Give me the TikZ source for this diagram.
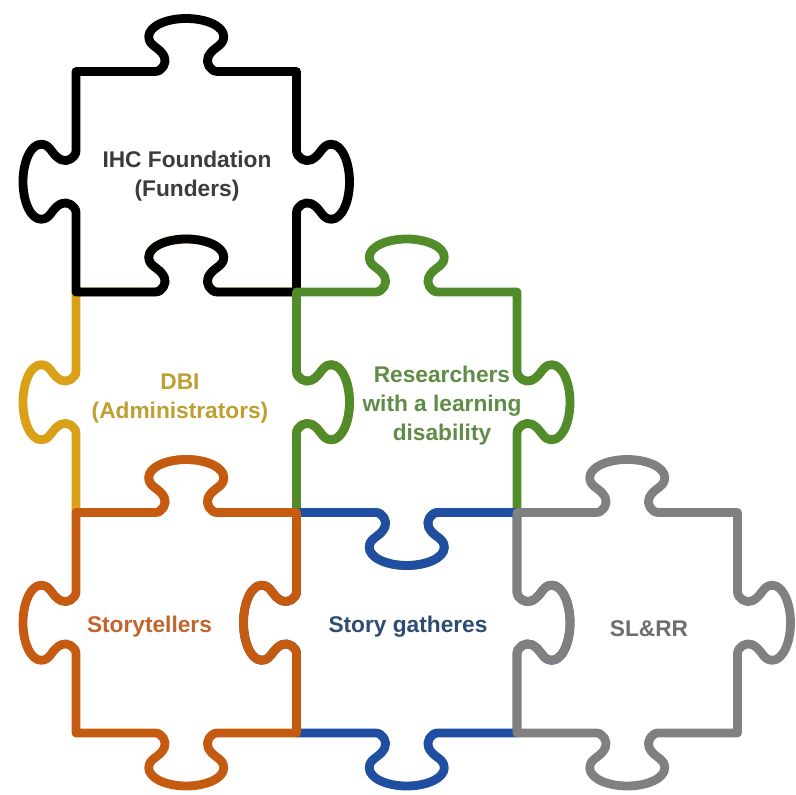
\documentclass[tikz,border=0pt]{standalone}
\usepackage{fontspec}
\setmainfont{Liberation Sans}
\definecolor{dbiline}{RGB}{218,160,24}
\definecolor{dbitext}{RGB}{190,160,50}
\definecolor{stline}{RGB}{197,90,17}
\definecolor{sttext}{RGB}{195,100,45}
\definecolor{resline}{RGB}{82,140,42}
\definecolor{restext}{RGB}{95,140,70}
\definecolor{sgline}{RGB}{32,78,160}
\definecolor{sgtext}{RGB}{45,75,115}
\definecolor{slline}{RGB}{128,128,128}
\definecolor{sltext}{RGB}{110,110,110}
\definecolor{ihctext}{RGB}{60,60,60}
% one tabbed edge: start X, start Y, along (ux,uy), tab toward (nx,ny)
\newcommand\E[6]{%
-- ({#1+(#3)*79.25},{#2+(#4)*79.25})
.. controls ({#1+(#3)*86.25},{#2+(#4)*86.25}) and ({#1+(#3)*91.25+(#5)*9},{#2+(#4)*91.25+(#6)*9}) .. ({#1+(#3)*88.25+(#5)*15},{#2+(#4)*88.25+(#6)*15})
.. controls ({#1+(#3)*83.25+(#5)*25},{#2+(#4)*83.25+(#6)*25}) and ({#1+(#3)*72.75+(#5)*25},{#2+(#4)*72.75+(#6)*25}) .. ({#1+(#3)*72.75+(#5)*35},{#2+(#4)*72.75+(#6)*35})
.. controls ({#1+(#3)*72.75+(#5)*44.9},{#2+(#4)*72.75+(#6)*44.9}) and ({#1+(#3)*89.55+(#5)*53},{#2+(#4)*89.55+(#6)*53}) .. ({#1+(#3)*110.25+(#5)*53},{#2+(#4)*110.25+(#6)*53})
.. controls ({#1+(#3)*130.95+(#5)*53},{#2+(#4)*130.95+(#6)*53}) and ({#1+(#3)*147.75+(#5)*44.9},{#2+(#4)*147.75+(#6)*44.9}) .. ({#1+(#3)*147.75+(#5)*35},{#2+(#4)*147.75+(#6)*35})
.. controls ({#1+(#3)*147.75+(#5)*25},{#2+(#4)*147.75+(#6)*25}) and ({#1+(#3)*137.25+(#5)*25},{#2+(#4)*137.25+(#6)*25}) .. ({#1+(#3)*132.25+(#5)*15},{#2+(#4)*132.25+(#6)*15})
.. controls ({#1+(#3)*129.25+(#5)*9},{#2+(#4)*129.25+(#6)*9}) and ({#1+(#3)*134.25},{#2+(#4)*134.25}) .. ({#1+(#3)*141.25},{#2+(#4)*141.25})
-- ({#1+(#3)*220.5},{#2+(#4)*220.5})}
% piece: style, left X, bottom Y, bottom/right/top/left (+1 tab out, -1 tab in)
\newcommand\piece[7]{%
 \draw[#1] (#2,#3)
  \E{#2}{#3}{1}{0}{0}{-(#4)}
  \E{#2+220.5}{#3}{0}{1}{#5}{0}
  \E{#2+220.5}{#3+220.5}{-1}{0}{0}{#6}
  \E{#2}{#3+220.5}{0}{-1}{-(#7)}{0}
  -- cycle;}
\tikzset{
  pz/.style={line width=8.8pt, line join=round, line cap=round},
  lbl/.style={font=\fontsize{22.7}{29}\selectfont\bfseries, align=center, inner sep=0pt}
}
\begin{document}
\begin{tikzpicture}[x=1pt,y=1pt]
\useasboundingbox (0,0) rectangle (796,795);
\fill[white] (0,0) rectangle (796,795);
\piece{pz,dbiline}{76}{282.5}{-1}{1}{1}{1}
\piece{pz,black}{76}{503}{-1}{1}{1}{1}
\piece{pz,resline}{296.5}{282.5}{1}{1}{1}{-1}
\piece{pz,sgline}{296.5}{62}{1}{1}{-1}{1}
\piece{pz,stline}{76}{62}{1}{-1}{1}{1}
\piece{pz,slline}{517}{62}{1}{1}{1}{-1}
\node[lbl, text=ihctext] (ihc) at (187,619) {IHC Foundation\\(Funders)};
\node[lbl, text=dbitext] (dbi) at (180,396) {DBI\\(Administrators)};
\node[lbl, text=restext] (res) at (442,389) {Researchers\\with a learning\\disability};
\node[lbl, text=sttext, anchor=base] (sto) at (149.5,162) {Storytellers};
\node[lbl, text=sgtext, anchor=base] (sg) at (408,162) {Story gatheres};
\node[lbl, text=sltext, anchor=base] (sl) at (649,158) {SL\&RR};
\end{tikzpicture}
\end{document}
